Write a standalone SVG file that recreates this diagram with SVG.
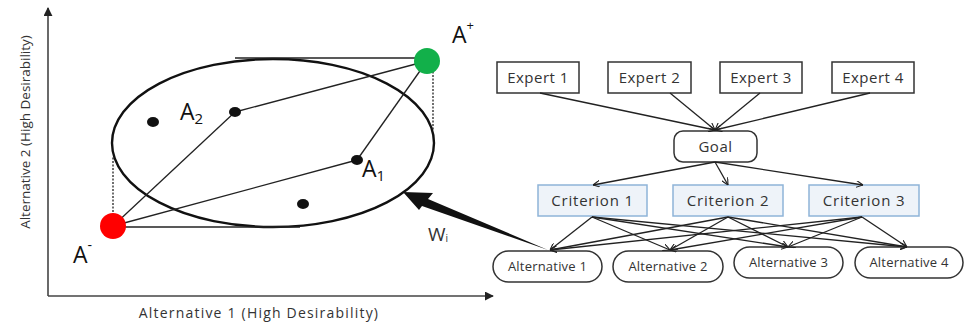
<svg xmlns="http://www.w3.org/2000/svg" width="968" height="324" viewBox="0 0 968 324">
<defs>
<style>
text{font-family:"Open Sans","Noto Sans","Liberation Sans",sans-serif;fill:#333}
.ln{stroke:#222;stroke-width:1.3;fill:none}
.th{stroke:#111;stroke-width:2.4;fill:none}
.box{fill:#fff;stroke:#333;stroke-width:1.5}
.crit{fill:#eef3f9;stroke:#8eb4d8;stroke-width:1.5}
.lbl{font-size:15px;letter-spacing:0.5px;text-anchor:middle}
.clbl{font-size:15px;letter-spacing:0.8px;text-anchor:middle}
.albl{font-size:13px;letter-spacing:0.2px;text-anchor:middle}
.big{font-size:23px;fill:#111}
.dot{fill:#111}
</style>
<marker id="ah" viewBox="0 0 10 10" refX="10" refY="5" markerWidth="7" markerHeight="7" orient="auto" markerUnits="userSpaceOnUse">
<path d="M0,0 L10,5 L0,10" fill="none" stroke="#222" stroke-width="1.6"/>
</marker>
<marker id="axh" viewBox="0 0 10 10" refX="9" refY="5" markerWidth="9" markerHeight="9" orient="auto" markerUnits="userSpaceOnUse">
<path d="M0,0 L10,5 L0,10 z" fill="#222"/>
</marker>
</defs>

<g id="chart">
<line x1="48" y1="296" x2="48" y2="8" stroke="#444" stroke-width="1.6" marker-end="url(#axh)"/>
<line x1="48" y1="296" x2="493" y2="296" stroke="#444" stroke-width="1.6" marker-end="url(#axh)"/>
<text x="259" y="318" font-size="14" letter-spacing="1.2" text-anchor="middle">Alternative 1 (High Desirability)</text>
<text transform="translate(30,132) rotate(-90)" font-size="13.5" text-anchor="middle">Alternative 2 (High Desirability)</text>
<ellipse cx="273" cy="143" rx="161" ry="84" class="th"/>
<line x1="235" y1="58" x2="420" y2="58" class="ln"/>
<line x1="113" y1="227" x2="300" y2="227" class="ln"/>
<line x1="113" y1="226" x2="113" y2="157" stroke="#222" stroke-width="1.3" stroke-dasharray="2,1.5"/>
<line x1="433" y1="61" x2="433" y2="130" stroke="#222" stroke-width="1.3" stroke-dasharray="2,1.5"/>
<line x1="113" y1="226" x2="235" y2="112" class="ln"/>
<line x1="113" y1="226" x2="357" y2="160" class="ln"/>
<line x1="427" y1="61" x2="235" y2="112" class="ln"/>
<line x1="427" y1="61" x2="357" y2="160" class="ln"/>
<circle cx="113" cy="226" r="13" fill="#f00"/>
<circle cx="427" cy="61" r="13" fill="#12b04a"/>
<ellipse cx="153" cy="122" rx="6" ry="5" class="dot"/>
<ellipse cx="303" cy="204" rx="6" ry="5" class="dot"/>
<ellipse cx="235" cy="112" rx="6" ry="5" class="dot"/>
<ellipse cx="357" cy="160" rx="6" ry="5" class="dot"/>
<text x="180" y="120" class="big">A<tspan font-size="15" dy="4">2</tspan></text>
<text x="362" y="177" class="big">A<tspan font-size="15" dy="4">1</tspan></text>
<text x="452" y="43" class="big">A<tspan font-size="13" dy="-13">+</tspan></text>
<text x="73" y="263" class="big">A<tspan font-size="14" dy="-13">-</tspan></text>
<text x="428" y="241" font-size="19" fill="#222">W<tspan font-size="10" dy="1">i</tspan></text>
<polygon points="403,192 433,193 428,199 548,250 422,206 419,210" fill="#111"/>
</g>

<g id="expert1"><rect x="497" y="62" width="82" height="31" class="box"/><text x="538" y="83" class="lbl">Expert 1</text></g>
<g id="expert2"><rect x="608" y="62" width="83" height="31" class="box"/><text x="649.5" y="83" class="lbl">Expert 2</text></g>
<g id="expert3"><rect x="720" y="62" width="82" height="31" class="box"/><text x="761" y="83" class="lbl">Expert 3</text></g>
<g id="expert4"><rect x="832" y="62" width="82" height="31" class="box"/><text x="873" y="83" class="lbl">Expert 4</text></g>
<g id="goal"><rect x="674" y="131" width="83" height="31" rx="9" class="box"/><text x="715.5" y="152" class="lbl">Goal</text></g>
<g id="criterion1"><rect x="538" y="185" width="109" height="31" class="crit"/><text x="592.5" y="206" class="clbl">Criterion 1</text></g>
<g id="criterion2"><rect x="673" y="185" width="110" height="31" class="crit"/><text x="728" y="206" class="clbl">Criterion 2</text></g>
<g id="criterion3"><rect x="809" y="185" width="110" height="31" class="crit"/><text x="864" y="206" class="clbl">Criterion 3</text></g>
<g id="alternative1"><rect x="493" y="251" width="109" height="31" rx="15.5" class="box"/><text x="547.5" y="271" class="albl">Alternative 1</text></g>
<g id="alternative2"><rect x="613" y="251" width="110" height="31" rx="15.5" class="box"/><text x="668" y="271" class="albl">Alternative 2</text></g>
<g id="alternative3"><rect x="734" y="247" width="109" height="31" rx="15.5" class="box"/><text x="788.5" y="267" class="albl">Alternative 3</text></g>
<g id="alternative4"><rect x="855" y="247" width="108" height="31" rx="15.5" class="box"/><text x="909" y="267" class="albl">Alternative 4</text></g>

<g id="connectors" class="ln">
<line x1="540" y1="93" x2="715" y2="130" marker-end="url(#ah)"/>
<line x1="670" y1="93" x2="715" y2="130" marker-end="url(#ah)"/>
<line x1="760" y1="93" x2="715" y2="130" marker-end="url(#ah)"/>
<line x1="870" y1="93" x2="715" y2="130" marker-end="url(#ah)"/>
<line x1="715" y1="162" x2="593" y2="185" marker-end="url(#ah)"/>
<line x1="715" y1="162" x2="728" y2="185" marker-end="url(#ah)"/>
<line x1="715" y1="162" x2="863" y2="185" marker-end="url(#ah)"/>
<line x1="592" y1="217" x2="550" y2="250" marker-end="url(#ah)"/>
<line x1="592" y1="217" x2="670" y2="250" marker-end="url(#ah)"/>
<line x1="592" y1="217" x2="788" y2="247" marker-end="url(#ah)"/>
<line x1="592" y1="217" x2="907" y2="247" marker-end="url(#ah)"/>
<line x1="728" y1="217" x2="550" y2="250" marker-end="url(#ah)"/>
<line x1="728" y1="217" x2="670" y2="250" marker-end="url(#ah)"/>
<line x1="728" y1="217" x2="788" y2="247" marker-end="url(#ah)"/>
<line x1="728" y1="217" x2="907" y2="247" marker-end="url(#ah)"/>
<line x1="862" y1="217" x2="550" y2="250" marker-end="url(#ah)"/>
<line x1="862" y1="217" x2="670" y2="250" marker-end="url(#ah)"/>
<line x1="862" y1="217" x2="788" y2="247" marker-end="url(#ah)"/>
<line x1="862" y1="217" x2="907" y2="247" marker-end="url(#ah)"/>
</g>
</svg>
